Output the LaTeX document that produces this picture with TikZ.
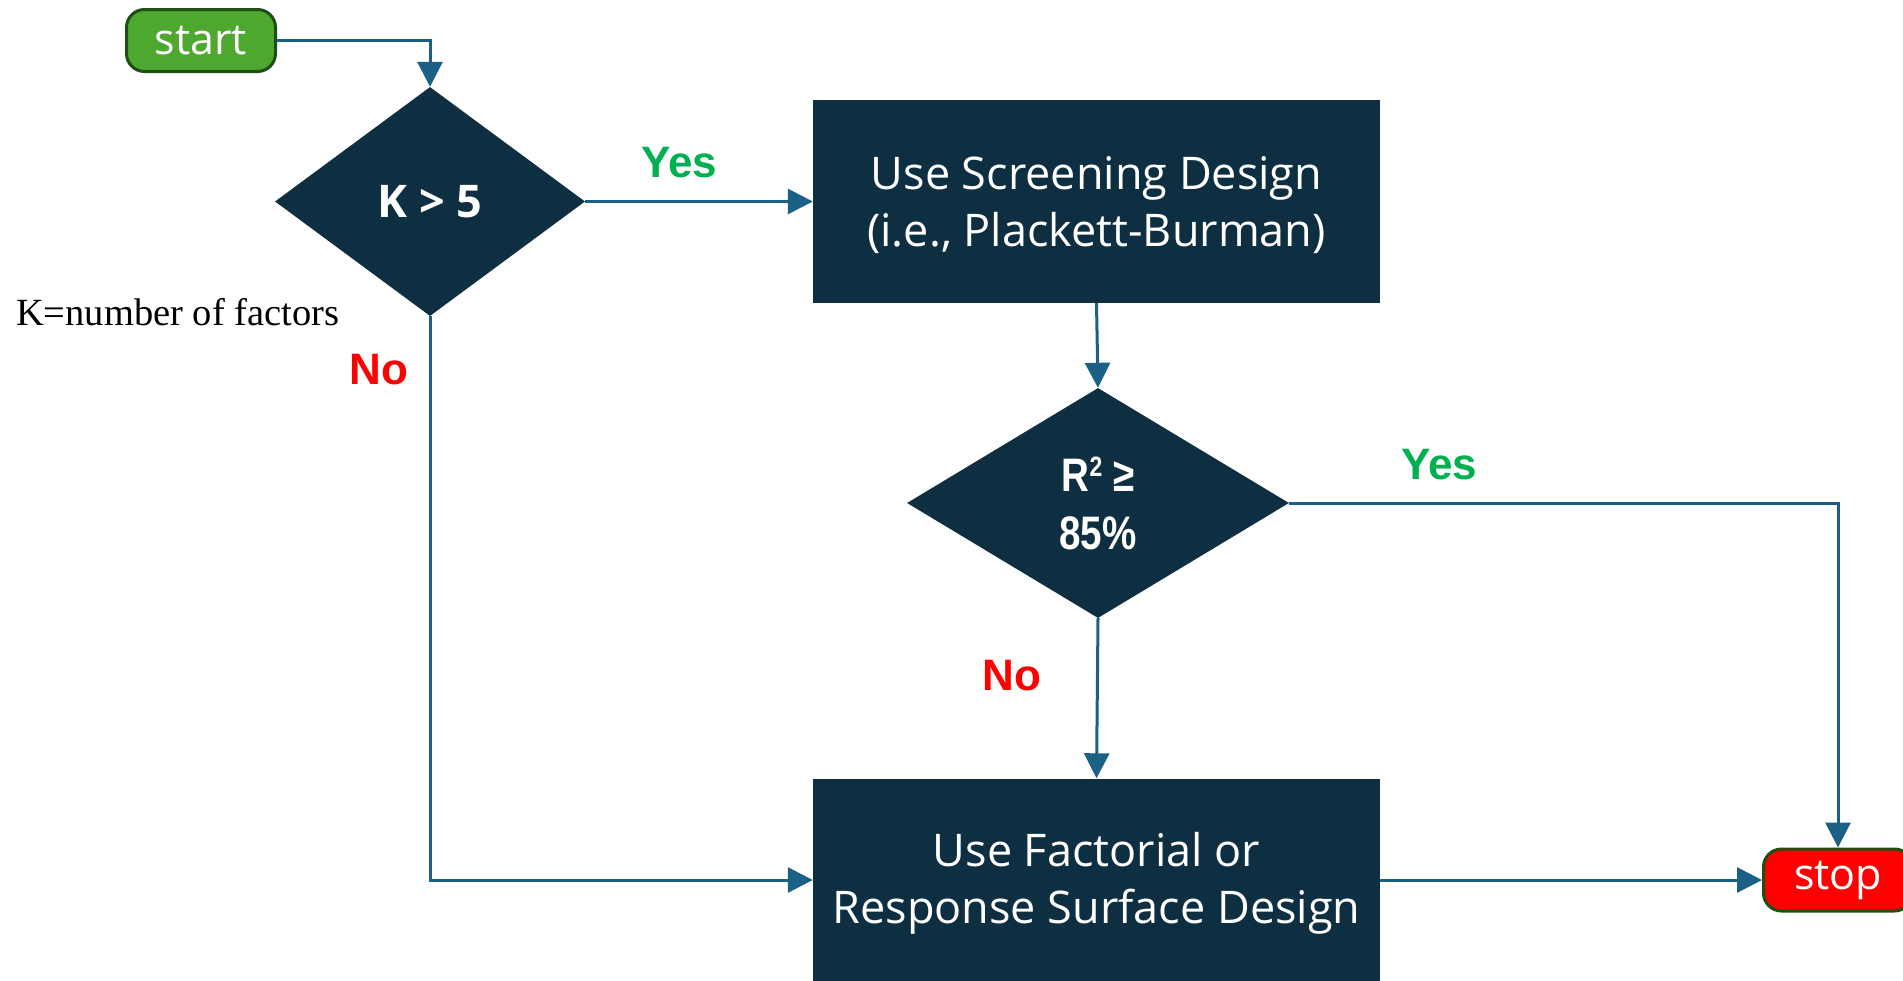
\documentclass[tikz,border=0pt]{standalone}
\usepackage{fontspec}
\setmainfont{Open Sans}
\newfontfamily\arialb{Liberation Sans}
\newfontfamily\narrowb[FakeStretch=0.82]{Liberation Sans}
\newfontfamily\timesf{Liberation Serif}
\usetikzlibrary{shapes.geometric,arrows.meta}
\definecolor{navy}{HTML}{0E2F42}
\definecolor{conn}{HTML}{1A6185}
\definecolor{gfill}{HTML}{4EA72E}
\definecolor{gborder}{HTML}{1F4E13}
\definecolor{yesg}{HTML}{00B050}
\definecolor{nored}{HTML}{FF0000}
\newcommand{\boxtext}[1]{\raisebox{-3.5pt}[\height][\depth]{\parbox{560pt}{\centering #1}}}
\begin{document}
\begin{tikzpicture}[x=1pt,y=-1pt,
  term/.style={draw=gborder, line width=3pt, rounded corners=18pt, minimum width=149pt, minimum height=62pt, inner sep=0pt, text=white, font=\fontsize{43}{50}\selectfont},
  dia/.style={diamond, fill=navy, inner sep=0pt, text=white, align=center},
  procbox/.style={rectangle, fill=navy, inner sep=0pt, minimum width=567pt, minimum height=203pt, text=white, font=\fontsize{45}{57.5}\selectfont},
  conn/.style={draw=conn, line width=3pt, -{Triangle[length=25pt,width=25pt]}},
  yeslbl/.style={text=yesg, font=\arialb\bfseries\fontsize{44}{50}\selectfont},
  nolbl/.style={text=nored, font=\arialb\bfseries\fontsize{44}{50}\selectfont}]
\useasboundingbox (0,0) rectangle (1903,980);
\clip (0,0) rectangle (1903,980);

\node[term, fill=gfill] (s) at (201,40.5) {start};
\node[dia, minimum width=310pt, minimum height=229pt, font=\bfseries\fontsize{45}{50}\selectfont] (d1) at (430,201.5) {K > 5};
\node[procbox] (b1) at (1096.5,201.5) {\boxtext{Use Screening Design\\(i.e., Plackett-Burman)}};
\node[dia, minimum width=382pt, minimum height=230pt, font=\narrowb\bfseries\fontsize{47}{58}\selectfont] (d2) at (1098,503) {R\raisebox{15pt}{\fontsize{28}{30}\selectfont 2} ≥\\85\%};
\node[procbox] (b2) at (1096.5,880) {\boxtext{Use Factorial or\\Response Surface Design}};
\node[term, fill=nored] (e) at (1838,880) {stop};

\node[yeslbl] (y1) at (679,163) {Yes};
\node[yeslbl] (y2) at (1439,465) {Yes};
\node[nolbl] (n1) at (379,370) {No};
\node[nolbl] (n2) at (1012,676) {No};
\node[anchor=base west, inner sep=0pt, font=\timesf\fontsize{38.5}{44}\selectfont] (kdef) at (16,325) {K=number of factors};

\draw[conn] (s.east) -| (d1.north);
\draw[conn] (d1.east) -- (b1.west);
\draw[conn] (b1.south) -- (d2.north);
\draw[conn] (d2.east) -| (e.north);
\draw[conn] (d2.south) -- (b2.north);
\draw[conn] (d1.south) |- (b2.west);
\draw[conn] (b2.east) -- (e.west);
\end{tikzpicture}
\end{document}
